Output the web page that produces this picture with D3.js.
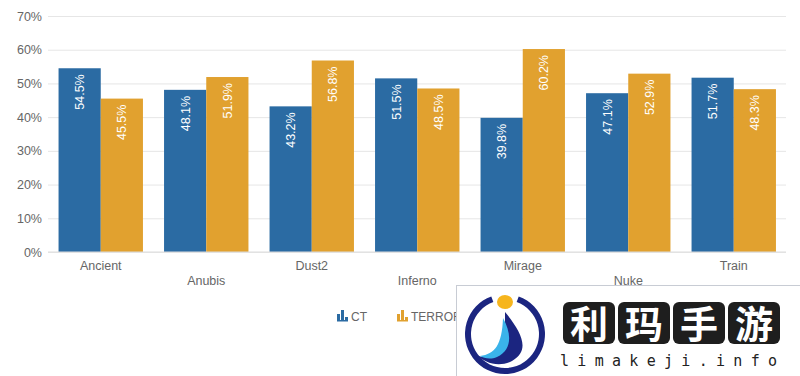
<!DOCTYPE html>
<html>
<head>
<meta charset="utf-8">
<script src="https://cdn.jsdelivr.net/npm/d3@7"></script>
<style>
  body { margin: 0; background: #fff; }
  svg { display: block; font-family: "Liberation Sans", Arial, sans-serif; }
</style>
</head>
<body>
<script>
// chart data
var maps = ["Ancient", "Anubis", "Dust2", "Inferno", "Mirage", "Nuke", "Train"];
var ctValues = [54.5, 48.1, 43.2, 51.5, 39.8, 47.1, 51.7];
var terrValues = [45.5, 51.9, 56.8, 48.5, 60.2, 52.9, 48.3];
var seriesNames = ["CT", "TERRORIST"];
var yTicks = [0, 10, 20, 30, 40, 50, 60, 70];

var width = 800, height = 376;
var colors = ["#2b6ba3", "#e1a12f"];

var svg = d3.select("body").append("svg")
    .attr("width", width)
    .attr("height", height);

var x = d3.scaleBand().domain(maps).range([48, 786.5]).paddingInner(0.2).paddingOuter(0.1);
var y = d3.scaleLinear().domain([0, 70]).range([252, 16]);
var xs = d3.scaleBand().domain(seriesNames).range([0, x.bandwidth()]);

// grid + y labels
var yAxis = d3.axisLeft(y).tickValues(yTicks).tickSize(-(786 - 48)).tickFormat(function(d){ return d + "%"; });
var gy = svg.append("g").attr("transform", "translate(48,0)").call(yAxis);
gy.select(".domain").remove();
gy.selectAll(".tick line").attr("stroke", "#e6e6e6");
gy.selectAll(".tick text").attr("fill", "#666").attr("font-size", 12.5).attr("x", -6);

// bars
var rows = maps.map(function(m, i){ return {map: m, vals: [ctValues[i], terrValues[i]]}; });
var groups = svg.append("g").selectAll("g").data(rows).enter().append("g")
    .attr("transform", function(d){ return "translate(" + x(d.map) + ",0)"; });

groups.selectAll("rect").data(function(d){ return d.vals; }).enter().append("rect")
    .attr("x", function(d, i){ return xs(seriesNames[i]); })
    .attr("y", function(d){ return y(d); })
    .attr("width", xs.bandwidth())
    .attr("height", function(d){ return y(0) - y(d); })
    .attr("fill", function(d, i){ return colors[i]; });

groups.selectAll("text").data(function(d){ return d.vals; }).enter().append("text")
    .attr("transform", function(d, i){
        var cx = xs(seriesNames[i]) + xs.bandwidth() / 2 + 4.5;
        return "translate(" + cx + "," + (y(d) + 6) + ") rotate(-90)";
    })
    .attr("text-anchor", "end")
    .attr("fill", "#fff")
    .attr("font-size", 12.5)
    .text(function(d){ return d.toFixed(1) + "%"; });

// baseline
svg.append("line").attr("x1", 48).attr("x2", 786).attr("y1", y(0)).attr("y2", y(0)).attr("stroke", "#ddd");

// x labels, staggered
svg.append("g").selectAll("text").data(maps).enter().append("text")
    .attr("x", function(d){ return x(d) + x.bandwidth() / 2; })
    .attr("y", function(d, i){ return i % 2 ? 285 : 270; })
    .attr("text-anchor", "middle")
    .attr("fill", "#666")
    .attr("font-size", 12.5)
    .text(function(d){ return d; });

// legend
var legend = svg.append("g");
var legX = [337, 397];
seriesNames.forEach(function(name, i){
    var g = legend.append("g").attr("transform", "translate(" + legX[i] + ",309)");
    [[0, 5], [4, 1], [8, 8]].forEach(function(b){
        g.append("rect").attr("x", b[0]).attr("y", b[1]).attr("width", 3).attr("height", 12 - b[1]).attr("fill", colors[i]);
    });
    g.append("rect").attr("x", 0).attr("y", 11).attr("width", 11).attr("height", 1.5).attr("fill", colors[i]);
    g.append("text").attr("x", 14).attr("y", 11.5).attr("fill", "#666").attr("font-size", 12).text(name);
});

// watermark box over the corner
var wm = svg.append("g");
wm.append("rect").attr("x", 456.5).attr("y", 285.5).attr("width", 344).attr("height", 91)
    .attr("fill", "#fff").attr("stroke", "#c8ccd4");
var arc = d3.arc().innerRadius(34).outerRadius(40);
wm.append("path").attr("transform", "translate(505,334)")
    .attr("d", arc({startAngle: 0.35, endAngle: 2 * Math.PI - 0.35}))
    .attr("fill", "#1b2580");
wm.append("ellipse").attr("cx", 505).attr("cy", 302).attr("rx", 8).attr("ry", 7).attr("fill", "#f6b51d");
wm.append("path").attr("d", "M505,312 C520,330 532,350 512,361 C498,368 484,362 478,356 C492,360 506,352 505,338 Z")
    .attr("fill", "#1b2580");
wm.append("path").attr("d", "M503,318 C512,334 512,350 497,357 C490,360 484,358 480,356 C495,354 502,345 503,318 Z")
    .attr("fill", "#3ab3ea");

var chars = ["利", "玛", "手", "游"];
chars.forEach(function(c, i){
    var bx = 563 + i * 55;
    wm.append("rect").attr("x", bx).attr("y", 302).attr("width", 52).attr("height", 42).attr("rx", 6).attr("fill", "#1e1e1e");
    wm.append("text").attr("x", bx + 26).attr("y", 338).attr("text-anchor", "middle")
        .attr("font-family", "Noto Sans CJK SC").attr("font-weight", "bold").attr("font-size", 38).attr("fill", "#fff").text(c);
});
wm.append("text").attr("x", 560).attr("y", 366).attr("font-family", "DejaVu Sans Mono")
    .attr("font-size", 15).attr("letter-spacing", 8.3).attr("fill", "#222").text("limakeji.info");
</script>
</body>
</html>
